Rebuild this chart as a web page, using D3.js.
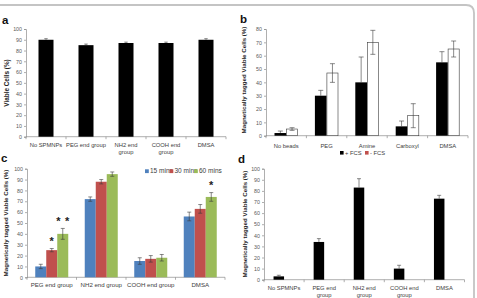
<!DOCTYPE html>
<html><head><meta charset="utf-8">
<script src="https://cdn.jsdelivr.net/npm/d3@7/dist/d3.min.js"></script>
<style>html,body{margin:0;padding:0;background:#fff;}svg{display:block;font-family:"Liberation Sans",Arial,sans-serif;}</style>
</head><body>
<svg id="chart" width="477" height="298"></svg>
<script>
// ---------- DATA ----------
// Panel a
const catsA = ["No SPMNPs", "PEG end group", "NH2 end group", "COOH end group", "DMSA"];
const tickLabelsA = [["No SPMNPs"], ["PEG end group"], ["NH2 end", "group"], ["COOH end", "group"], ["DMSA"]];
const valsA = [90, 85, 87, 87, 90];
const errA = [1, 1, 0.8, 0.8, 1];
const yTicksA = [0, 10, 20, 30, 40, 50, 60, 70, 80, 90, 100];

// Panel b
const catsB = ["No beads", "PEG", "Amine", "Carboxyl", "DMSA"];
const seriesB = ["+ FCS", "- FCS"];
const plusFCS = [2, 30, 40, 7, 55];
const plusFCSErr = [1.5, 4, 19, 4, 8];
const minusFCS = [5, 47, 70, 15, 65];
const minusFCSErr = [1, 7, 9, 9, 6];
const yTicksB = [0, 10, 20, 30, 40, 50, 60, 70, 80];

// Panel c
const catsC = ["PEG end group", "NH2 end group", "COOH end group", "DMSA"];
const seriesC = ["15 mins", "30 mins", "60 mins"];
const min15 = [10, 72, 15, 56];
const min15Err = [2, 2, 3, 4];
const min30 = [25, 88, 17, 63];
const min30Err = [1.5, 2, 3, 4];
const min60 = [40, 95, 18, 74];
const min60Err = [5, 2, 3, 4];
const starsC = [{cat: "PEG end group", series: "30 mins", text: "*"},
                {cat: "PEG end group", series: "60 mins", text: "*\u2009\u2009*"},
                {cat: "DMSA", series: "60 mins", text: "*"}];
const yTicksC = [0, 10, 20, 30, 40, 50, 60, 70, 80, 90, 100];

// Panel d
const catsD = ["No SPMNPs", "PEG end group", "NH2 end group", "COOH end group", "DMSA"];
const tickLabelsD = [["No SPMNPs"], ["PEG end", "group"], ["NH2 end", "group"], ["COOH end", "group"], ["DMSA"]];
const valsD = [3, 34, 83, 10, 73];
const errD = [1, 3, 8, 3, 3];
const yTicksD = [0, 10, 20, 30, 40, 50, 60, 70, 80, 90, 100];

// ---------- DRAW ----------
const svg = d3.select("#chart");
const AXIS = "#8c8c8c", TXT = "#404040", ERR = "#3a3a3a";

// frame
svg.append("path").attr("d", "M-5,5 H466 Q474,5 474,13 V300")
  .attr("fill", "none").attr("stroke", "#c4c4c4").attr("stroke-width", 1.8);

function frame(o) {
  const x = d3.scaleBand().domain(o.cats).range(o.xr).paddingInner(0).paddingOuter(0);
  const y = d3.scaleLinear().domain(o.yd).range(o.yr);
  const g = svg.append("g");
  const ya = d3.axisLeft(y).tickValues(o.yt).tickSize(2).tickPadding(2);
  const gy = g.append("g").attr("transform", `translate(${o.xr[0]},0)`).call(ya);
  gy.select(".domain").attr("stroke", AXIS).attr("stroke-width", 0.7);
  gy.selectAll(".tick line").attr("stroke", AXIS).attr("stroke-width", 0.7);
  gy.selectAll(".tick text").attr("font-size", o.tfs || 5.3).attr("fill", "#595959")
    .attr("font-family", "Liberation Sans, Arial, sans-serif");
  g.append("line").attr("x1", o.xr[0]).attr("x2", o.xr[1]).attr("y1", y(0)).attr("y2", y(0))
    .attr("stroke", AXIS).attr("stroke-width", 0.7);
  const bounds = o.cats.map(c => x(c)).concat([o.xr[1]]);
  g.selectAll(".xt").data(bounds).enter().append("line")
    .attr("x1", d => d).attr("x2", d => d).attr("y1", y(0)).attr("y2", y(0) + 2.5)
    .attr("stroke", AXIS).attr("stroke-width", 0.7);
  const labs = o.labels || o.cats.map(c => [c]);
  o.cats.forEach((c, i) => {
    const t = g.append("text").attr("x", x(c) + x.bandwidth() / 2 + (o.lxoff || 0))
      .attr("y", y(0) + o.ly).attr("text-anchor", "middle")
      .attr("font-size", o.lfs).attr("fill", TXT);
    labs[i].forEach((line, j) => {
      t.append("tspan").attr("x", x(c) + x.bandwidth() / 2 + (o.lxoff || 0))
        .attr("dy", j === 0 ? 0 : o.lh).text(line);
    });
  });
  g.append("text").attr("transform", `translate(${o.tx},${o.ty}) rotate(-90)`)
    .attr("text-anchor", "middle").attr("font-size", o.tfsz).attr("font-weight", "bold")
    .attr("fill", "#262626").text(o.title);
  svg.append("text").attr("x", o.letter[1]).attr("y", o.letter[2]).attr("font-size", 11.5)
    .attr("font-weight", "bold").attr("fill", "#111").attr("font-family", "Liberation Sans, Arial, sans-serif")
    .text(o.letter[0]);
  return {x, y, g};
}

function errBar(g, cx, y, v, e, w, up) {
  const top = y(v + e), bot = up ? y(v) : y(v - e);
  g.append("line").attr("x1", cx).attr("x2", cx).attr("y1", top).attr("y2", bot)
    .attr("stroke", ERR).attr("stroke-width", 0.6);
  g.append("line").attr("x1", cx - w / 2).attr("x2", cx + w / 2).attr("y1", top).attr("y2", top)
    .attr("stroke", ERR).attr("stroke-width", 0.6);
  if (!up) g.append("line").attr("x1", cx - w / 2).attr("x2", cx + w / 2).attr("y1", bot).attr("y2", bot)
    .attr("stroke", ERR).attr("stroke-width", 0.6);
}

// ---- Panel a ----
{
  const {x, y, g} = frame({cats: catsA, xr: [26, 226], yd: [0, 100], yr: [136.7, 29], yt: yTicksA,
    labels: tickLabelsA, ly: 10, lh: 7.3, lfs: 5.8, title: "Viable Cells (%)", tx: 9, ty: 83, tfsz: 6.4,
    letter: ["a", 2, 24]});
  const bw = 15;
  catsA.forEach((c, i) => {
    const cx = x(c) + x.bandwidth() / 2;
    g.append("rect").attr("x", cx - bw / 2).attr("width", bw).attr("y", y(valsA[i]))
      .attr("height", y(0) - y(valsA[i])).attr("fill", "#000");
    errBar(g, cx, y, valsA[i], errA[i], 3.5, true);
  });
}

// ---- Panel b ----
{
  const {x, y, g} = frame({cats: catsB, xr: [266, 468], yd: [0, 80], yr: [135.7, 29], yt: yTicksB,
    ly: 12, lh: 7, lfs: 5.8, title: "Magnetically tagged Viable Cells (%)", tx: 246, ty: 80, tfsz: 6.2,
    letter: ["b", 240, 23]});
  const xs = d3.scaleBand().domain(seriesB).range([0, 23.4]);
  const data = [[plusFCS, plusFCSErr], [minusFCS, minusFCSErr]];
  catsB.forEach((c, i) => {
    const base = x(c) + x.bandwidth() / 2 - 11.7;
    seriesB.forEach((s, k) => {
      const v = data[k][0][i], e = data[k][1][i];
      const bx = base + xs(s);
      g.append("rect").attr("x", bx + (k ? 0.3 : 0)).attr("width", xs.bandwidth() - (k ? 0.6 : 0))
        .attr("y", y(v)).attr("height", y(0) - y(v))
        .attr("fill", k ? "#fff" : "#000").attr("stroke", k ? "#3a3a3a" : "none").attr("stroke-width", 0.6);
      errBar(g, bx + xs.bandwidth() / 2, y, v, e, 5, k === 0);
    });
  });
  const lg = svg.append("g").attr("font-size", 5.8).attr("fill", TXT);
  const litems = [{s: seriesB[0], col: "#000", x: 340}, {s: seriesB[1], col: "#c0504d", x: 365}];
  litems.forEach(it => {
    lg.append("rect").attr("x", it.x).attr("y", 151).attr("width", 3.6).attr("height", 3.6).attr("fill", it.col);
    lg.append("text").attr("x", it.x + 5).attr("y", 155).text(it.s);
  });
}

// ---- Panel c ----
{
  const {x, y, g} = frame({cats: catsC, xr: [27, 225], yd: [0, 100], yr: [277.3, 168.7], yt: yTicksC,
    ly: 10, lh: 7, lfs: 6.1, title: "Magnetically tagged Viable Cells (%)", tx: 8, ty: 223, tfsz: 6.2,
    letter: ["c", 1, 162]});
  const colors = ["#4f81bd", "#c0504d", "#9bbb59"];
  const vals = [min15, min30, min60], errs = [min15Err, min30Err, min60Err];
  const xs = d3.scaleBand().domain(seriesC).range([0, 33]);
  catsC.forEach((c, i) => {
    const base = x(c) + x.bandwidth() / 2 - 16.5;
    seriesC.forEach((s, k) => {
      const v = vals[k][i];
      const bx = base + xs(s);
      g.append("rect").attr("x", bx).attr("width", xs.bandwidth()).attr("y", y(v))
        .attr("height", y(0) - y(v)).attr("fill", colors[k]);
      errBar(g, bx + xs.bandwidth() / 2, y, v, errs[k][i], 4, false);
    });
  });
  starsC.forEach(st => {
    const i = catsC.indexOf(st.cat), k = seriesC.indexOf(st.series);
    const cx = x(st.cat) + x.bandwidth() / 2 - 16.5 + xs(st.series) + xs.bandwidth() / 2;
    g.append("text").attr("x", cx).attr("y", y(vals[k][i] + errs[k][i]) - 3.5)
      .attr("text-anchor", "middle").attr("font-size", 11).attr("font-weight", "bold")
      .attr("fill", "#222").text(st.text);
  });
  const lg = svg.append("g").attr("font-size", 6.5).attr("fill", TXT);
  const lx = [145, 169.5, 194];
  seriesC.forEach((s, k) => {
    lg.append("rect").attr("x", lx[k]).attr("y", 169.3).attr("width", 3.8).attr("height", 3.8).attr("fill", colors[k]);
    lg.append("text").attr("x", lx[k] + 5).attr("y", 173.3).text(s);
  });
}

// ---- Panel d ----
{
  const {x, y, g} = frame({cats: catsD, xr: [264, 464.5], yd: [0, 100], yr: [279.7, 168.7], yt: yTicksD,
    labels: tickLabelsD, ly: 10.5, lh: 7, lfs: 5.8, title: "Magnetically tagged Viable Cells (%)", tx: 247, ty: 224, tfsz: 6.2,
    letter: ["d", 238, 163]});
  const bw = 10.5;
  catsD.forEach((c, i) => {
    const cx = x(c) + x.bandwidth() / 2 - bw / 2;
    g.append("rect").attr("x", cx - bw / 2).attr("width", bw).attr("y", y(valsD[i]))
      .attr("height", y(0) - y(valsD[i])).attr("fill", "#000");
    errBar(g, cx, y, valsD[i], errD[i], 4, true);
  });
}
</script>
</body></html>
